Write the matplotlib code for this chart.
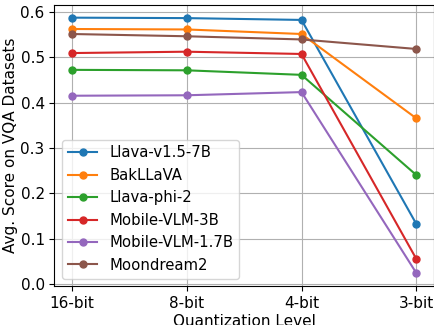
import matplotlib
matplotlib.use("Agg")
import matplotlib.pyplot as plt

# quantization levels on the x axis
levels = ["16-bit", "8-bit", "4-bit", "3-bit"]

# avg. score per model
llava_7b = [0.587, 0.586, 0.582, 0.132]
bakllava = [0.562, 0.561, 0.551, 0.365]
llava_phi2 = [0.472, 0.471, 0.461, 0.240]
mobilevlm_3b = [0.509, 0.512, 0.507, 0.055]
mobilevlm_17b = [0.415, 0.416, 0.423, 0.024]
moondream2 = [0.551, 0.546, 0.539, 0.518]

models = ["Llava-v1.5-7B", "BakLLaVA", "Llava-phi-2",
          "Mobile-VLM-3B", "Mobile-VLM-1.7B", "Moondream2"]
scores = [llava_7b, bakllava, llava_phi2, mobilevlm_3b, mobilevlm_17b, moondream2]

plt.rcParams["font.size"] = 11

fig, ax = plt.subplots(figsize=(4.35, 3.25), dpi=100)

for name, vals in zip(models, scores):
    ax.plot(levels, vals, marker="o", markersize=5, label=name)

ax.set_xlabel("Quantization Level", labelpad=2)
ax.set_ylabel("Avg. Score on VQA Datasets", labelpad=2)
ax.grid(True)
ax.legend(loc="lower left", fontsize=10.7)

fig.subplots_adjust(left=0.125, right=0.997, top=0.985, bottom=0.12)
fig.savefig("out.png", dpi=100)
